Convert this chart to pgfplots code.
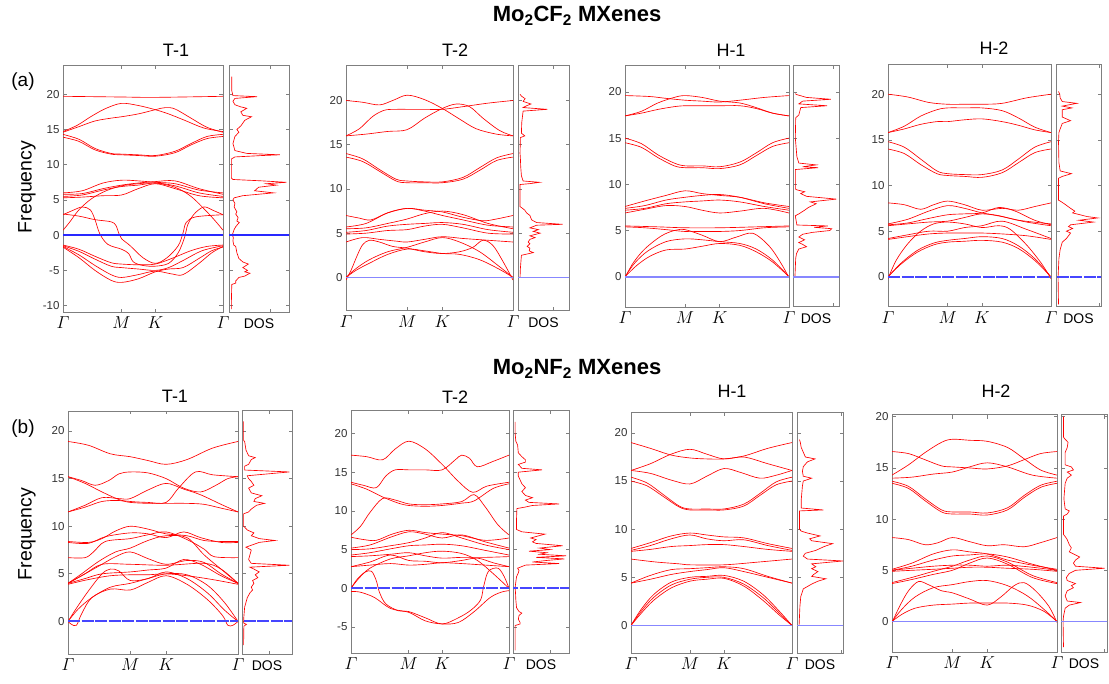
\documentclass[border=0pt]{standalone}
\usepackage{pgfplots}
\pgfplotsset{compat=1.18}
\usepackage{fontspec}
\setmainfont{Liberation Sans}
\definecolor{axg}{HTML}{7F7F7F}
\definecolor{lbl}{HTML}{333333}
\definecolor{zdark}{RGB}{40,40,255}
\definecolor{zlight}{RGB}{135,135,255}
\definecolor{zmid}{RGB}{70,70,255}
\newcommand{\G}{\mathnormal{\Gamma}}
\pgfplotsset{
 base/.style={scale only axis, anchor=north west,
   axis line style={draw=axg, line width=1pt},
   every tick/.style={draw=axg, line width=0.7pt}, major tick length=3.5pt,
   tick align=inside,
   tick label style={font=\fontsize{11.5}{12}\selectfont, color=lbl},
   /pgf/number format/assume math mode=true, clip=true},
 band/.style={base, xmin=0, xmax=1, xtick={0,0.366,0.577,1},
   xticklabels={$\G$,$M$,$K$,$\G$},
   xticklabel style={font=\fontsize{17.5}{17.5}\selectfont, color=black, yshift=-1pt}},
 dos/.style={base, xmin=-0.05, xtick={1}, xticklabels={}, yticklabels={},
   xlabel={DOS}, xlabel style={at={(axis description cs:0.5,0)}, anchor=north, yshift=-3pt, font=\fontsize{14}{14}\selectfont}},
 bd/.style={draw=red, line width=0.65pt, smooth, tension=0.55, no marks},
 ds/.style={draw=red, line width=0.65pt, no marks},
 zd/.style={draw=zdark, line width=1.6pt, no marks},
 zl/.style={draw=zlight, line width=1.6pt, no marks},
 zm/.style={draw=zmid, line width=1.8pt, no marks, dash pattern=on 12pt off 1.5pt},
}
\begin{document}
\begin{tikzpicture}
\path[use as bounding box] (0,0) rectangle (1109pt,-684pt);
% ---------- titles ----------
\node[anchor=base, font=\fontsize{22}{22}\selectfont\bfseries] at (577pt,-22pt) {Mo\textsubscript{2}CF\textsubscript{2} MXenes};
\node[anchor=base, font=\fontsize{22}{22}\selectfont\bfseries] at (577pt,-375pt) {Mo\textsubscript{2}NF\textsubscript{2} MXenes};
\node[anchor=base, font=\fontsize{19}{19}\selectfont] at (23pt,-87pt) {(a)};
\node[anchor=base, font=\fontsize{19}{19}\selectfont] at (23pt,-434pt) {(b)};
\node[rotate=90, font=\fontsize{19.5}{19.5}\selectfont] at (27pt,-187pt) {Frequency};
\node[rotate=90, font=\fontsize{19.5}{19.5}\selectfont] at (27pt,-534pt) {Frequency};
\foreach \x/\y/\t in {176/57/T-1, 455/57/T-2, 731/57/H-1, 994/55/H-2, 175/403/T-1, 455/404/T-2, 732/398/H-1, 996/398/H-2}
  \node[anchor=base, font=\fontsize{18}{18}\selectfont] at (\x pt,-\y pt) {\t};

% ================= (a) T-1 =================
\begin{axis}[band, at={(63pt,-66pt)}, width=160pt, height=246pt, ymin=-10.9, ymax=24, ytick={-10,-5,...,20}]
\addplot[bd] coordinates {(0,19.7)(0.366,19.6)(0.577,19.55)(1,19.7)};
\addplot[bd] coordinates {(0,14.7)(0.09,15.6)(0.18,16.9)(0.27,18.0)(0.366,18.7)(0.47,18.4)(0.577,17.8)(0.66,17.2)(0.76,16.3)(0.88,15.2)(1,14.7)};
\addplot[bd] coordinates {(0,14.6)(0.1,15.4)(0.2,16.2)(0.3,16.6)(0.366,16.8)(0.47,17.2)(0.577,17.8)(0.64,18.1)(0.7,17.9)(0.8,16.6)(0.9,15.3)(1,14.6)};
\addplot[bd] coordinates {(0,14.3)(0.1,13.6)(0.2,12.3)(0.3,11.6)(0.366,11.5)(0.47,11.4)(0.577,11.3)(0.7,11.9)(0.8,13.0)(0.9,14.0)(1,14.3)};
\addplot[bd] coordinates {(0,13.9)(0.1,13.3)(0.2,12.1)(0.3,11.5)(0.366,11.4)(0.47,11.3)(0.577,11.2)(0.7,11.7)(0.8,12.8)(0.9,13.7)(1,14.0)};
\addplot[bd] coordinates {(0,6.0)(0.12,6.3)(0.25,7.4)(0.366,7.8)(0.47,7.7)(0.577,7.5)(0.7,7.3)(0.85,6.4)(1,6.0)};
\addplot[bd] coordinates {(0,5.8)(0.12,5.9)(0.25,6.6)(0.366,7.1)(0.47,7.4)(0.577,7.6)(0.7,7.7)(0.85,6.6)(1,5.8)};
\addplot[bd] coordinates {(0,5.5)(0.12,5.7)(0.25,6.4)(0.366,6.9)(0.47,7.1)(0.577,7.4)(0.7,7.0)(0.85,6.0)(1,5.5)};
\addplot[bd] coordinates {(0,5.3)(0.12,5.4)(0.25,5.6)(0.366,5.7)(0.47,6.6)(0.577,7.3)(0.7,6.6)(0.85,5.6)(1,5.3)};
\addplot[bd] coordinates {(0,0.7)(0.04,1.8)(0.1,3.6)(0.18,5.2)(0.27,6.3)(0.366,7.0)(0.47,7.3)(0.577,7.4)(0.7,6.8)(0.8,5.5)(0.9,3.3)(0.96,1.8)(1,0.7)};
\addplot[bd] coordinates {(0,3.0)(0.1,2.7)(0.2,2.2)(0.3,1.9)(0.33,1.4)(0.35,0.2)(0.366,-0.5)(0.42,-1.5)(0.5,-3.2)(0.577,-4.0)(0.65,-3.2)(0.72,-1.5)(0.75,0.3)(0.77,1.8)(0.83,2.6)(1,2.9)};
\addplot[bd] coordinates {(0,2.9)(0.06,3.5)(0.12,4.0)(0.17,3.6)(0.2,2.2)(0.23,0.2)(0.28,-1.3)(0.366,-2.0)(0.41,-2.6)(0.44,-3.8)(0.5,-4.3)(0.577,-4.4)(0.66,-4.0)(0.72,-2.5)(0.76,-0.3)(0.78,1.5)(0.82,3.0)(0.88,4.0)(0.94,3.5)(1,2.9)};
\addplot[bd] coordinates {(0,-1.4)(0.1,-2.0)(0.2,-3.0)(0.3,-3.9)(0.366,-4.1)(0.47,-4.2)(0.577,-4.1)(0.68,-3.3)(0.8,-2.2)(0.9,-1.6)(1,-1.4)};
\addplot[bd] coordinates {(0,-1.5)(0.1,-2.3)(0.2,-3.4)(0.3,-4.4)(0.366,-4.6)(0.47,-4.8)(0.577,-5.0)(0.66,-4.6)(0.75,-3.6)(0.87,-2.2)(1,-1.5)};
\addplot[bd] coordinates {(0,-1.6)(0.1,-2.8)(0.2,-4.3)(0.3,-5.6)(0.366,-6.0)(0.47,-5.6)(0.577,-5.1)(0.68,-5.5)(0.75,-5.6)(0.85,-4.0)(0.93,-2.5)(1,-1.6)};
\addplot[bd] coordinates {(0,-1.7)(0.1,-3.2)(0.2,-5.0)(0.3,-6.4)(0.366,-6.7)(0.47,-6.2)(0.577,-5.2)(0.66,-4.8)(0.75,-4.6)(0.85,-3.3)(0.93,-2.2)(1,-1.7)};
\addplot[zd] coordinates {(0,0)(1,0)};
\end{axis}
\begin{axis}[dos, at={(229pt,-66pt)}, width=60pt, height=246pt, xmax=1.47, ymin=-10.9, ymax=24, ytick={-10,-5,...,20}]
\addplot[ds] coordinates {(0.01,-10.5)(0.01,-9.5)(0.02,-7)(0.12,-6.8)(0.12,-6.5)(0.2,-6.0)(0.35,-5.8)(0.48,-5.4)(0.35,-5.2)(0.42,-5.0)(0.3,-4.6)(0.44,-4.1)(0.3,-3.8)(0.2,-3.3)(0.15,-2.5)(0.12,-1.6)(0.07,-1.4)(0.05,-0.8)(0.06,-0.3)(0.03,0)(0.05,0.3)(0.08,0.8)(0.12,1.2)(0.21,1.8)(0.15,2.0)(0.18,2.5)(0.12,3.0)(0.15,3.3)(0.08,4.0)(0.1,4.5)(0.05,5.0)(0.08,5.3)(0.3,5.6)(1.08,6.0)(0.6,6.3)(0.7,6.8)(1.15,7.1)(0.9,7.3)(1.4,7.5)(0.8,7.7)(0.05,7.9)(0.01,8.1)(0.01,10.8)(0.1,11.1)(0.8,11.3)(1.24,11.4)(0.4,11.6)(0.1,12.0)(0.05,13.0)(0.1,14.0)(0.2,14.6)(0.15,15.0)(0.25,15.5)(0.35,16.3)(0.52,16.8)(0.3,17.0)(0.25,17.5)(0.4,18.0)(0.25,18.2)(0.1,18.5)(0.05,19.0)(0.1,19.4)(0.66,19.65)(0.05,19.8)(0.02,20.5)(0.02,22.5)};
\addplot[zd] coordinates {(-1,0)(3,0)};
\end{axis}

% ================= (a) T-2 =================
\begin{axis}[band, at={(346pt,-66pt)}, width=167pt, height=245pt, ymin=-3.8, ymax=23.9, ytick={0,5,...,20}]
\addplot[bd] coordinates {(0,20.0)(0.1,19.8)(0.2,19.5)(0.28,20.0)(0.366,20.6)(0.47,20.1)(0.577,19.1)(0.68,17.9)(0.78,16.8)(0.9,16.2)(1,16.0)};
\addplot[bd] coordinates {(0,16.0)(0.08,16.8)(0.16,18.2)(0.23,18.9)(0.3,19.0)(0.366,19.0)(0.47,19.0)(0.577,19.0)(0.7,19.3)(0.85,19.7)(1,20.0)};
\addplot[bd] coordinates {(0,16.0)(0.12,16.2)(0.25,16.5)(0.366,16.7)(0.47,18.0)(0.577,19.1)(0.66,19.6)(0.74,19.3)(0.82,18.0)(0.92,16.6)(1,16.0)};
\addplot[bd] coordinates {(0,14.0)(0.1,13.4)(0.2,12.2)(0.3,11.1)(0.366,10.9)(0.47,10.8)(0.577,10.8)(0.7,11.3)(0.8,12.4)(0.9,13.5)(1,14.0)};
\addplot[bd] coordinates {(0,13.6)(0.1,13.1)(0.2,12.0)(0.3,10.9)(0.366,10.7)(0.47,10.7)(0.577,10.7)(0.7,11.1)(0.8,12.1)(0.9,13.2)(1,13.6)};
\addplot[bd] coordinates {(0,7.0)(0.08,6.7)(0.15,6.5)(0.25,7.3)(0.366,7.8)(0.47,7.6)(0.577,7.4)(0.7,6.8)(0.82,6.4)(0.9,6.6)(1,7.0)};
\addplot[bd] coordinates {(0,5.7)(0.12,6.1)(0.25,7.3)(0.366,7.8)(0.47,7.5)(0.577,7.0)(0.7,6.5)(0.85,5.9)(1,5.7)};
\addplot[bd] coordinates {(0,5.5)(0.12,5.6)(0.25,6.1)(0.366,6.6)(0.47,7.2)(0.577,7.5)(0.7,7.1)(0.85,6.1)(1,5.5)};
\addplot[bd] coordinates {(0,5.1)(0.12,5.3)(0.25,5.8)(0.366,6.0)(0.47,6.1)(0.577,6.2)(0.7,6.0)(0.85,5.4)(1,5.1)};
\addplot[bd] coordinates {(0,4.9)(0.12,5.0)(0.25,5.3)(0.366,5.4)(0.47,5.8)(0.577,6.0)(0.7,5.6)(0.85,5.0)(1,4.9)};
\addplot[bd] coordinates {(0,4.0)(0.1,4.5)(0.2,4.3)(0.3,4.1)(0.366,4.0)(0.47,4.3)(0.577,4.6)(0.7,4.4)(0.85,4.2)(1,4.0)};
\addplot[bd] coordinates {(0,-0.3)(0.03,0.8)(0.07,2.6)(0.1,3.7)(0.14,4.2)(0.2,4.0)(0.28,3.5)(0.366,3.3)(0.47,2.9)(0.577,2.7)(0.68,2.9)(0.76,3.4)(0.82,4.2)(0.88,3.6)(0.94,1.8)(1,-0.3)};
\addplot[bd] coordinates {(0,0)(0.06,1.0)(0.14,2.0)(0.25,2.9)(0.366,3.4)(0.47,4.0)(0.577,4.5)(0.68,4.0)(0.8,2.9)(0.92,1.2)(1,0)};
\addplot[bd] coordinates {(0,0)(0.06,0.8)(0.14,1.6)(0.25,2.6)(0.366,3.2)(0.47,3.0)(0.577,2.7)(0.68,2.6)(0.8,2.0)(0.92,0.9)(1,0)};
\addplot[zl] coordinates {(0,0)(1,0)};
\end{axis}
\begin{axis}[dos, at={(518pt,-66pt)}, width=51pt, height=245pt, xmax=1.45, ymin=-3.8, ymax=23.9, ytick={0,5,...,20}]
\addplot[ds] coordinates {(0.01,0)(0.02,1.0)(0.05,2.5)(0.4,2.8)(0.28,3.0)(0.3,3.3)(0.22,3.5)(0.3,3.8)(0.25,4.0)(0.3,4.3)(0.45,4.5)(0.3,4.7)(0.6,5.0)(0.4,5.2)(0.55,5.4)(0.3,5.6)(0.5,5.9)(1.26,6.0)(0.5,6.2)(0.35,6.5)(0.3,7.0)(0.2,7.3)(0.15,7.6)(0.05,7.9)(0.01,8.0)(0.01,10.5)(0.3,10.6)(0.58,10.75)(0.1,10.9)(0.05,11.5)(0.03,12.5)(0.02,13.5)(0.01,14.0)(0.02,15.8)(0.15,16.0)(0.05,16.3)(0.06,17.5)(0.1,18.8)(0.81,19.0)(0.1,19.2)(0.2,19.4)(0.33,19.6)(0.1,19.9)(0.16,20.2)(0.05,20.5)(0.01,20.7)};
\addplot[zl] coordinates {(-1,0)(3,0)};
\end{axis}

% ================= (a) H-1 =================
\begin{axis}[band, at={(625pt,-66pt)}, width=164pt, height=241pt, ymin=-3.27, ymax=22.8, ytick={0,5,...,20}]
\addplot[bd] coordinates {(0,19.6)(0.15,19.5)(0.25,19.3)(0.366,19.1)(0.47,19.0)(0.577,18.9)(0.7,19.1)(0.85,19.4)(1,19.6)};
\addplot[bd] coordinates {(0,17.4)(0.1,17.9)(0.2,18.8)(0.3,19.4)(0.366,19.6)(0.47,19.4)(0.577,19.0)(0.7,18.8)(0.8,18.3)(0.9,17.7)(1,17.4)};
\addplot[bd] coordinates {(0,17.4)(0.1,17.7)(0.2,18.1)(0.3,18.4)(0.366,18.5)(0.47,18.5)(0.577,18.5)(0.7,18.5)(0.8,18.2)(0.9,17.7)(1,17.4)};
\addplot[bd] coordinates {(0,15.0)(0.1,14.4)(0.2,13.2)(0.3,12.3)(0.366,12.0)(0.47,12.0)(0.577,11.9)(0.7,12.4)(0.8,13.4)(0.9,14.5)(1,15.0)};
\addplot[bd] coordinates {(0,14.5)(0.1,14.0)(0.2,12.9)(0.3,12.0)(0.366,11.8)(0.47,11.8)(0.577,11.7)(0.7,12.1)(0.8,13.1)(0.9,14.1)(1,14.5)};
\addplot[bd] coordinates {(0,7.6)(0.12,8.2)(0.25,8.8)(0.366,9.3)(0.47,9.0)(0.577,8.8)(0.7,8.6)(0.85,8.0)(1,7.6)};
\addplot[bd] coordinates {(0,7.4)(0.12,7.7)(0.25,8.3)(0.366,8.6)(0.47,8.8)(0.577,8.9)(0.7,8.6)(0.85,7.9)(1,7.4)};
\addplot[bd] coordinates {(0,7.2)(0.12,7.4)(0.25,7.9)(0.366,8.1)(0.47,8.2)(0.577,8.3)(0.7,8.1)(0.85,7.6)(1,7.2)};
\addplot[bd] coordinates {(0,6.9)(0.12,7.3)(0.25,7.7)(0.366,7.6)(0.47,7.2)(0.577,6.9)(0.7,7.1)(0.85,7.4)(1,6.9)};
\addplot[bd] coordinates {(0,5.5)(0.2,5.4)(0.366,5.3)(0.577,5.3)(0.8,5.4)(1,5.5)};
\addplot[bd] coordinates {(0,5.4)(0.12,5.3)(0.25,5.1)(0.366,4.9)(0.47,4.9)(0.577,4.9)(0.7,5.0)(0.85,5.3)(1,5.4)};
\addplot[bd] coordinates {(0,-0.1)(0.05,1.5)(0.12,3.0)(0.22,4.4)(0.3,5.0)(0.366,5.1)(0.47,4.5)(0.577,3.8)(0.68,4.3)(0.78,4.7)(0.88,3.3)(0.95,1.5)(1,-0.1)};
\addplot[bd] coordinates {(0,0)(0.06,1.5)(0.14,2.8)(0.25,3.8)(0.366,4.1)(0.47,4.0)(0.577,3.8)(0.7,3.6)(0.8,3.0)(0.9,1.8)(1,0)};
\addplot[bd] coordinates {(0,0)(0.07,1.2)(0.15,2.2)(0.25,2.9)(0.366,3.0)(0.47,3.3)(0.577,3.6)(0.7,3.4)(0.8,2.7)(0.9,1.6)(1,0)};
\addplot[zl] coordinates {(0,0)(1,0)};
\end{axis}
\begin{axis}[dos, at={(793pt,-66pt)}, width=46pt, height=241pt, xmax=1.14, ymin=-3.27, ymax=22.8, ytick={0,5,...,20}]
\addplot[ds] coordinates {(0,0)(0.01,1)(0.02,2)(0.04,2.5)(0.1,3.0)(0.3,3.25)(0.2,3.5)(0.1,3.7)(0.25,4.0)(0.1,4.3)(0.2,4.6)(0.45,4.8)(0.9,5.0)(0.95,5.2)(0.5,5.35)(0.85,5.5)(0.05,5.6)(0.01,6.6)(0.1,6.8)(0.25,7.2)(0.35,7.5)(0.55,7.9)(0.4,8.1)(1.07,8.4)(0.3,8.7)(0.15,9.0)(0.25,9.2)(0.05,9.4)(0.01,9.5)(0.01,11.6)(0.6,11.8)(0.2,11.9)(0.55,12.1)(0.1,12.3)(0.05,13)(0.02,14.5)(0.01,15.0)(0.02,17.2)(0.1,17.5)(0.15,18.3)(0.83,18.5)(0.1,18.7)(0.2,19.0)(0.93,19.2)(0.3,19.4)(0.05,19.7)(0.01,19.8)};
\addplot[zl] coordinates {(-1,0)(3,0)};
\end{axis}

% ================= (a) H-2 =================
\begin{axis}[band, at={(888pt,-65pt)}, width=163pt, height=242pt, ymin=-3.3, ymax=23.2, ytick={0,5,...,20}]
\addplot[bd] coordinates {(0,20.0)(0.12,19.7)(0.25,19.1)(0.366,18.9)(0.47,18.9)(0.577,18.9)(0.7,19.0)(0.85,19.6)(1,20.0)};
\addplot[bd] coordinates {(0,15.8)(0.1,16.5)(0.2,17.6)(0.3,18.3)(0.366,18.5)(0.47,18.5)(0.577,18.5)(0.7,18.2)(0.8,17.4)(0.9,16.4)(1,15.8)};
\addplot[bd] coordinates {(0,15.8)(0.1,16.2)(0.2,16.7)(0.3,17.0)(0.366,17.0)(0.47,17.2)(0.577,17.3)(0.7,17.0)(0.8,16.6)(0.9,16.1)(1,15.8)};
\addplot[bd] coordinates {(0,14.8)(0.1,14.2)(0.2,12.9)(0.3,11.6)(0.366,11.3)(0.47,11.2)(0.577,11.2)(0.7,11.7)(0.8,12.9)(0.9,14.2)(1,14.8)};
\addplot[bd] coordinates {(0,14.0)(0.1,13.5)(0.2,12.3)(0.3,11.3)(0.366,11.1)(0.47,11.0)(0.577,10.9)(0.7,11.4)(0.8,12.5)(0.9,13.6)(1,14.0)};
\addplot[bd] coordinates {(0,8.1)(0.1,7.9)(0.2,7.4)(0.28,7.9)(0.366,8.3)(0.47,7.9)(0.577,7.3)(0.7,7.5)(0.8,7.3)(0.9,7.7)(1,8.1)};
\addplot[bd] coordinates {(0,5.8)(0.12,6.3)(0.25,7.2)(0.366,7.8)(0.47,7.5)(0.577,7.0)(0.68,6.7)(0.8,6.2)(1,5.8)};
\addplot[bd] coordinates {(0,5.7)(0.12,5.9)(0.25,6.4)(0.366,6.8)(0.47,6.9)(0.577,7.0)(0.68,7.6)(0.78,7.2)(0.9,6.2)(1,5.7)};
\addplot[bd] coordinates {(0,5.6)(0.12,5.8)(0.25,6.0)(0.366,6.1)(0.47,6.5)(0.577,6.9)(0.7,6.6)(0.85,6.0)(1,5.6)};
\addplot[bd] coordinates {(0,4.2)(0.12,4.6)(0.25,5.0)(0.366,5.0)(0.47,5.4)(0.577,5.6)(0.7,6.1)(0.85,5.2)(1,4.2)};
\addplot[bd] coordinates {(0,4.1)(0.12,4.4)(0.25,4.7)(0.366,4.8)(0.47,4.8)(0.577,4.8)(0.7,4.7)(0.85,4.5)(1,4.1)};
\addplot[bd] coordinates {(0,-0.2)(0.05,1.8)(0.12,3.6)(0.2,5.0)(0.28,5.8)(0.366,6.0)(0.47,5.8)(0.577,5.4)(0.68,5.6)(0.75,5.2)(0.85,3.5)(0.94,1.5)(1,-0.2)};
\addplot[bd] coordinates {(0,0)(0.08,1.5)(0.18,2.9)(0.28,3.7)(0.366,4.0)(0.47,4.2)(0.577,4.4)(0.7,4.2)(0.8,3.4)(0.9,2.0)(1,0)};
\addplot[bd] coordinates {(0,0)(0.08,1.4)(0.18,2.7)(0.28,3.5)(0.366,3.8)(0.47,3.9)(0.577,4.0)(0.7,3.8)(0.8,3.1)(0.9,1.8)(1,0)};
\addplot[zm] coordinates {(0,0)(1,0)};
\end{axis}
\begin{axis}[dos, at={(1056pt,-65pt)}, width=45pt, height=242pt, xmax=1.03, ymin=-3.3, ymax=23.2, ytick={0,5,...,20}]
\addplot[ds] coordinates {(0.01,-3)(0,0)(0.01,1)(0.02,2)(0.05,3)(0.1,3.8)(0.2,4.2)(0.25,4.5)(0.3,4.8)(0.2,5.0)(0.35,5.3)(0.25,5.5)(0.3,5.7)(0.85,6.0)(0.5,6.2)(0.95,6.45)(0.7,6.6)(0.35,7.0)(0.4,7.2)(0.3,7.5)(0.15,8.0)(0.05,8.3)(0.01,8.4)(0.01,10.8)(0.1,11.0)(0.32,11.3)(0.05,11.6)(0.02,12.5)(0.01,14.8)(0.02,15.8)(0.05,16.2)(0.1,16.8)(0.3,17.1)(0.1,17.5)(0.1,18.3)(0.33,18.5)(0.1,18.7)(0.45,19.0)(0.1,19.2)(0.05,19.6)(0.04,20.0)(0.01,20.3)};
\addplot[zm] coordinates {(-1,0)(3,0)};
\end{axis}

% ================= (b) T-1 =================
\begin{axis}[band, at={(68pt,-411pt)}, width=170pt, height=243pt, ymin=-3.42, ymax=22.1, ytick={0,5,...,20}]
\addplot[bd] coordinates {(0,18.9)(0.12,18.5)(0.25,17.6)(0.366,17.3)(0.47,16.9)(0.577,16.5)(0.7,17.0)(0.85,18.2)(1,18.9)};
\addplot[bd] coordinates {(0,15.2)(0.08,14.8)(0.16,14.3)(0.24,14.8)(0.3,15.5)(0.366,15.7)(0.47,15.6)(0.577,15.0)(0.68,14.0)(0.78,13.6)(0.87,14.3)(0.94,15.0)(1,15.2)};
\addplot[bd] coordinates {(0,15.2)(0.1,14.5)(0.2,13.6)(0.3,12.8)(0.366,12.6)(0.47,12.5)(0.577,12.5)(0.65,14.0)(0.75,15.7)(0.85,15.4)(1,15.2)};
\addplot[bd] coordinates {(0,11.5)(0.1,12.2)(0.2,13.0)(0.3,12.9)(0.366,12.9)(0.47,13.8)(0.577,14.5)(0.68,13.9)(0.78,13.3)(0.9,12.3)(1,11.5)};
\addplot[bd] coordinates {(0,11.5)(0.1,12.0)(0.2,12.6)(0.3,12.7)(0.366,12.5)(0.47,12.4)(0.577,12.4)(0.7,12.4)(0.8,12.3)(0.9,11.9)(1,11.5)};
\addplot[bd] coordinates {(0,8.4)(0.12,8.3)(0.2,8.7)(0.28,9.5)(0.366,10.0)(0.47,9.7)(0.577,9.2)(0.7,9.0)(0.8,8.5)(0.9,8.4)(1,8.4)};
\addplot[bd] coordinates {(0,8.3)(0.12,8.2)(0.22,8.9)(0.366,9.3)(0.47,9.2)(0.577,8.8)(0.68,9.4)(0.78,8.8)(0.9,8.3)(1,8.3)};
\addplot[bd] coordinates {(0,6.7)(0.1,6.7)(0.15,7.3)(0.22,8.4)(0.366,8.7)(0.47,9.1)(0.577,9.4)(0.7,8.6)(0.8,7.6)(0.86,6.8)(1,6.7)};
\addplot[bd] coordinates {(0,4.0)(0.08,5.0)(0.18,6.3)(0.28,7.3)(0.366,7.7)(0.47,8.5)(0.577,9.0)(0.7,8.8)(0.8,7.0)(0.9,5.5)(1,4.0)};
\addplot[bd] coordinates {(0,4.0)(0.08,4.8)(0.18,5.8)(0.28,6.8)(0.366,7.3)(0.47,6.6)(0.577,6.0)(0.7,6.4)(0.8,6.2)(0.9,5.0)(1,4.0)};
\addplot[bd] coordinates {(0,4.0)(0.1,5.0)(0.2,6.0)(0.366,6.0)(0.577,5.9)(0.8,6.1)(0.9,5.5)(1,4.0)};
\addplot[bd] coordinates {(0,4.0)(0.1,4.5)(0.2,5.0)(0.366,5.2)(0.47,5.4)(0.577,5.6)(0.68,6.5)(0.78,6.0)(0.9,4.8)(1,4.0)};
\addplot[bd] coordinates {(0,3.9)(0.12,4.4)(0.25,4.8)(0.366,4.9)(0.47,4.9)(0.577,5.0)(0.7,4.8)(0.85,4.4)(1,3.9)};
\addplot[bd] coordinates {(0,0)(0.02,-0.3)(0.05,-0.4)(0.08,0.8)(0.14,2.5)(0.25,3.4)(0.366,3.3)(0.47,4.1)(0.577,4.8)(0.7,3.9)(0.82,2.3)(0.91,0.6)(0.94,-0.4)(0.97,-0.4)(1,0)};
\addplot[bd] coordinates {(0,0)(0.05,1.4)(0.12,3.2)(0.2,5.0)(0.25,5.5)(0.3,5.3)(0.366,4.3)(0.47,4.5)(0.577,5.2)(0.7,4.5)(0.82,3.0)(0.92,1.2)(1,0)};
\addplot[bd] coordinates {(0,0)(0.06,1.3)(0.14,2.5)(0.25,3.6)(0.366,4.0)(0.47,4.5)(0.577,5.0)(0.7,4.9)(0.82,3.8)(0.92,2.0)(1,0)};
\addplot[zm, line width=2pt] coordinates {(0,0)(1,0)};
\end{axis}
\begin{axis}[dos, at={(242pt,-411pt)}, width=50pt, height=243pt, xmax=1.84, ymin=-3.42, ymax=22.1, ytick={0,5,...,20}]
\addplot[ds] coordinates {(0.01,-2.5)(0.02,-0.5)(0.12,-0.3)(0.02,-0.2)(0.01,0)(0.02,0.5)(0.05,1.5)(0.15,2.5)(0.25,3.0)(0.35,3.3)(0.3,3.6)(0.4,4.0)(0.35,4.3)(0.55,4.6)(0.45,4.9)(0.6,5.2)(0.4,5.5)(0.25,5.7)(1.74,5.9)(0.3,6.1)(0.2,6.5)(0.25,7.0)(0.3,7.5)(0.1,7.8)(0.3,8.0)(0.6,8.3)(1.2,8.5)(0.6,8.7)(0.3,9.0)(0.4,9.3)(0.15,9.6)(0.05,9.9)(0.01,10.0)(0.01,11.3)(0.2,11.5)(0.3,11.8)(0.5,12.2)(0.8,12.4)(0.4,12.6)(0.45,12.9)(0.7,13.2)(0.3,13.5)(0.2,14.0)(0.4,14.3)(0.3,14.7)(0.2,15.0)(0.15,15.3)(1.74,15.7)(0.05,15.9)(0.05,16.3)(0.2,16.5)(0.3,17.0)(0.45,17.2)(0.2,17.4)(0.1,18.0)(0.05,18.9)(0.01,19.0)(0.01,21)};
\addplot[zm, line width=2pt] coordinates {(-1,0)(3,0)};
\end{axis}

% ================= (b) T-2 =================
\begin{axis}[band, at={(351pt,-411pt)}, width=158pt, height=242pt, ymin=-8.35, ymax=22.9, ytick={-5,0,...,20}]
\addplot[bd] coordinates {(0,17.2)(0.1,17.0)(0.2,16.6)(0.28,18.0)(0.366,19.0)(0.47,18.0)(0.577,16.0)(0.68,13.8)(0.77,12.4)(0.86,13.2)(1,13.7)};
\addplot[bd] coordinates {(0,13.7)(0.08,13.3)(0.16,13.0)(0.22,14.5)(0.28,15.3)(0.366,15.3)(0.47,15.3)(0.577,15.3)(0.66,16.6)(0.7,17.2)(0.75,16.8)(0.8,15.7)(0.9,16.4)(1,17.2)};
\addplot[bd] coordinates {(0,13.5)(0.1,12.8)(0.2,11.8)(0.3,11.0)(0.366,10.7)(0.47,10.6)(0.577,10.7)(0.7,11.0)(0.78,11.3)(0.9,12.9)(1,13.5)};
\addplot[bd] coordinates {(0,6.9)(0.06,8.0)(0.12,9.8)(0.2,11.6)(0.28,11.4)(0.366,10.9)(0.47,10.8)(0.577,10.9)(0.7,11.2)(0.78,12.1)(0.85,10.5)(0.93,8.2)(1,6.9)};
\addplot[bd] coordinates {(0,6.6)(0.08,6.3)(0.16,6.2)(0.26,7.0)(0.366,7.5)(0.47,7.2)(0.577,7.0)(0.7,6.8)(0.85,6.2)(1,6.5)};
\addplot[bd] coordinates {(0,5.2)(0.12,5.6)(0.25,6.6)(0.366,7.3)(0.47,7.0)(0.577,6.5)(0.7,6.9)(0.85,6.0)(1,5.2)};
\addplot[bd] coordinates {(0,5.0)(0.12,5.1)(0.25,5.5)(0.366,5.9)(0.47,6.5)(0.577,7.2)(0.7,6.5)(0.85,5.6)(1,5.0)};
\addplot[bd] coordinates {(0,4.3)(0.12,4.6)(0.25,5.1)(0.366,5.5)(0.47,5.6)(0.577,5.7)(0.7,5.5)(0.85,4.9)(1,4.3)};
\addplot[bd] coordinates {(0,4.1)(0.12,4.2)(0.25,4.4)(0.366,4.6)(0.47,4.2)(0.577,3.9)(0.7,4.0)(0.85,4.0)(1,4.1)};
\addplot[bd] coordinates {(0,2.8)(0.12,3.4)(0.25,4.3)(0.366,3.6)(0.47,3.5)(0.577,3.3)(0.7,3.6)(0.8,3.9)(0.9,3.3)(1,2.8)};
\addplot[bd] coordinates {(0,2.8)(0.12,3.0)(0.25,3.2)(0.366,3.0)(0.47,3.1)(0.577,3.3)(0.7,3.2)(0.85,3.0)(1,2.8)};
\addplot[bd] coordinates {(0,0)(0.05,1.3)(0.12,2.6)(0.25,3.8)(0.366,4.2)(0.47,4.6)(0.577,4.8)(0.7,4.5)(0.8,3.6)(0.9,1.9)(1,0)};
\addplot[bd] coordinates {(0,0)(0.04,1.2)(0.09,2.1)(0.13,2.2)(0.16,1.0)(0.18,-0.5)(0.22,-2.0)(0.3,-2.9)(0.366,-3.0)(0.47,-3.8)(0.577,-4.6)(0.68,-3.8)(0.76,-2.8)(0.82,-1.5)(0.84,0.3)(0.87,2.2)(0.93,2.6)(0.97,1.5)(1,0)};
\addplot[bd] coordinates {(0,-0.4)(0.06,-0.5)(0.15,-1.2)(0.25,-2.6)(0.366,-3.1)(0.47,-4.2)(0.577,-4.6)(0.68,-4.4)(0.78,-3.0)(0.88,-1.2)(0.95,-0.5)(1,-0.3)};
\addplot[zm, line width=2pt] coordinates {(0,0)(1,0)};
\end{axis}
\begin{axis}[dos, at={(513pt,-411pt)}, width=56pt, height=242pt, xmax=1.53, ymin=-8.35, ymax=22.9, ytick={-5,0,...,20}]
\addplot[ds] coordinates {(0.01,-8)(0.01,-4.8)(0.15,-4.6)(0.15,-4.4)(0.1,-4.0)(0.12,-3.5)(0.2,-3.2)(0.12,-3.0)(0.05,-2.5)(0.03,-1.5)(0.02,-0.5)(0.01,0)(0.02,0.5)(0.05,1.5)(0.1,2.0)(0.12,2.3)(0.08,2.6)(0.3,3.0)(1.25,3.2)(0.5,3.4)(0.9,3.6)(1.4,3.8)(0.6,4.0)(1.45,4.2)(0.7,4.4)(0.9,4.6)(0.4,4.8)(1.0,5.0)(0.7,5.2)(1.35,5.5)(0.6,5.8)(0.5,6.0)(0.6,6.3)(0.45,6.5)(0.85,7.0)(0.2,7.3)(0.05,7.6)(0.05,9)(0.06,10.3)(0.3,10.5)(0.5,10.7)(1.25,10.9)(0.4,11.1)(0.3,11.4)(0.5,11.7)(0.3,12.0)(0.2,12.5)(0.3,13.0)(0.2,13.5)(0.15,14.0)(0.1,14.5)(0.1,15.0)(0.77,15.3)(0.2,15.5)(0.1,16.0)(0.3,16.3)(0.3,16.6)(0.2,17.0)(0.1,17.5)(0.08,18.5)(0.03,19.0)(0.01,20.0)(0.01,21.5)};
\addplot[zm, line width=2pt] coordinates {(-1,0)(3,0)};
\end{axis}

% ================= (b) H-1 =================
\begin{axis}[band, at={(631pt,-413pt)}, width=161pt, height=240pt, ymin=-2.86, ymax=22.07, ytick={0,5,...,20}]
\addplot[bd] coordinates {(0,19.0)(0.12,18.4)(0.25,17.7)(0.366,17.4)(0.47,17.3)(0.577,17.3)(0.7,17.6)(0.85,18.4)(1,19.0)};
\addplot[bd] coordinates {(0,16.1)(0.12,16.8)(0.25,17.8)(0.366,18.3)(0.47,17.8)(0.577,17.3)(0.7,17.5)(0.85,16.8)(1,16.1)};
\addplot[bd] coordinates {(0,16.1)(0.12,15.8)(0.25,15.1)(0.366,14.7)(0.47,15.5)(0.577,16.3)(0.68,15.9)(0.8,15.3)(0.9,15.6)(1,16.1)};
\addplot[bd] coordinates {(0,15.4)(0.1,14.8)(0.2,13.6)(0.3,12.4)(0.366,12.1)(0.47,12.1)(0.577,12.1)(0.7,12.6)(0.8,13.7)(0.9,14.9)(1,15.4)};
\addplot[bd] coordinates {(0,15.0)(0.1,14.5)(0.2,13.4)(0.3,12.3)(0.366,12.0)(0.47,12.0)(0.577,12.0)(0.7,12.4)(0.8,13.5)(0.9,14.6)(1,15.0)};
\addplot[bd] coordinates {(0,8.0)(0.12,8.6)(0.25,9.3)(0.366,9.6)(0.47,9.4)(0.577,9.2)(0.7,9.1)(0.85,8.5)(1,8.0)};
\addplot[bd] coordinates {(0,7.8)(0.12,8.3)(0.25,9.0)(0.366,9.4)(0.47,9.0)(0.577,8.8)(0.7,8.9)(0.85,8.3)(1,7.8)};
\addplot[bd] coordinates {(0,7.7)(0.12,7.9)(0.25,8.2)(0.366,8.3)(0.47,8.4)(0.577,8.4)(0.7,8.2)(0.85,7.9)(1,7.7)};
\addplot[bd] coordinates {(0,6.9)(0.15,6.6)(0.3,6.4)(0.366,6.3)(0.577,6.3)(0.8,6.6)(1,6.9)};
\addplot[bd] coordinates {(0,4.4)(0.12,5.2)(0.25,5.8)(0.366,5.9)(0.47,6.0)(0.577,6.1)(0.7,5.9)(0.85,5.1)(1,4.4)};
\addplot[bd] coordinates {(0,4.4)(0.12,4.8)(0.25,5.3)(0.366,5.6)(0.47,5.8)(0.577,6.0)(0.7,5.6)(0.85,5.0)(1,4.4)};
\addplot[bd] coordinates {(0,0)(0.06,1.6)(0.14,3.2)(0.25,4.5)(0.366,5.0)(0.47,5.1)(0.577,5.2)(0.7,4.6)(0.82,3.2)(0.92,1.5)(1,0)};
\addplot[bd] coordinates {(0,0)(0.06,1.4)(0.14,2.9)(0.25,4.2)(0.366,4.8)(0.47,5.0)(0.577,5.0)(0.7,4.3)(0.82,2.9)(0.92,1.3)(1,0)};
\addplot[bd] coordinates {(0,0)(0.06,1.2)(0.14,2.6)(0.25,3.9)(0.366,4.6)(0.47,4.8)(0.577,4.9)(0.7,4.1)(0.82,2.6)(0.92,1.1)(1,0)};
\addplot[zl] coordinates {(0,0)(1,0)};
\end{axis}
\begin{axis}[dos, at={(797pt,-413pt)}, width=46pt, height=240pt, xmax=1.05, ymin=-2.86, ymax=22.07, ytick={0,5,...,20}]
\addplot[ds] coordinates {(0,0)(0.01,1)(0.02,2)(0.04,3)(0.1,3.8)(0.3,4.3)(0.45,4.6)(0.64,4.85)(0.3,5.1)(0.35,5.3)(0.45,5.6)(0.3,5.9)(0.4,6.1)(0.3,6.4)(1.05,6.7)(0.2,6.9)(0.1,7.2)(0.15,7.5)(0.4,7.8)(0.6,8.2)(0.8,8.5)(0.3,8.8)(0.25,9.0)(0.5,9.3)(0.2,9.6)(0.05,9.8)(0.01,10.0)(0.01,11.9)(0.58,12.0)(0.05,12.2)(0.05,13)(0.08,14.5)(0.1,15.0)(0.3,15.3)(0.1,15.5)(0.08,16.0)(0.1,16.5)(0.2,17.0)(0.38,17.3)(0.15,17.5)(0.05,18.5)(0.03,19.0)(0.01,19.3)};
\addplot[zl] coordinates {(-1,0)(3,0)};
\end{axis}

% ================= (b) H-2 =================
\begin{axis}[band, at={(892pt,-415pt)}, width=165pt, height=237pt, ymin=-2.98, ymax=20.17, ytick={0,5,...,20}]
\addplot[bd] coordinates {(0,14.3)(0.1,15.3)(0.2,16.5)(0.3,17.5)(0.366,17.8)(0.47,17.7)(0.577,17.6)(0.7,17.0)(0.8,15.9)(0.9,14.8)(1,14.3)};
\addplot[bd] coordinates {(0,16.6)(0.1,16.4)(0.2,15.8)(0.3,15.2)(0.366,15.1)(0.47,15.0)(0.577,14.9)(0.7,15.2)(0.8,15.8)(0.9,16.4)(1,16.6)};
\addplot[bd] coordinates {(0,14.0)(0.12,14.1)(0.25,14.4)(0.366,14.6)(0.47,15.1)(0.577,15.5)(0.7,15.1)(0.85,14.3)(1,14.0)};
\addplot[bd] coordinates {(0,13.7)(0.1,13.2)(0.2,12.0)(0.3,10.9)(0.366,10.7)(0.47,10.7)(0.577,10.6)(0.7,11.1)(0.8,12.3)(0.9,13.3)(1,13.7)};
\addplot[bd] coordinates {(0,13.5)(0.1,13.0)(0.2,11.8)(0.3,10.7)(0.366,10.5)(0.47,10.5)(0.577,10.4)(0.7,10.9)(0.8,12.1)(0.9,13.1)(1,13.5)};
\addplot[bd] coordinates {(0,8.2)(0.1,8.0)(0.2,7.5)(0.28,7.7)(0.366,8.2)(0.47,7.8)(0.577,7.4)(0.68,7.5)(0.8,7.3)(0.9,7.7)(1,8.2)};
\addplot[bd] coordinates {(0,5.1)(0.12,5.7)(0.25,6.6)(0.366,7.0)(0.47,6.8)(0.577,6.6)(0.7,6.0)(0.85,5.5)(1,5.1)};
\addplot[bd] coordinates {(0,5.0)(0.12,5.4)(0.25,6.0)(0.366,6.4)(0.47,6.5)(0.577,6.6)(0.7,6.3)(0.85,5.6)(1,5.0)};
\addplot[bd] coordinates {(0,5.0)(0.12,5.2)(0.25,5.4)(0.366,5.5)(0.47,5.5)(0.577,5.4)(0.7,5.5)(0.85,5.3)(1,5.0)};
\addplot[bd] coordinates {(0,4.9)(0.12,5.0)(0.25,5.1)(0.366,5.2)(0.47,5.3)(0.577,5.3)(0.7,5.2)(0.85,5.1)(1,4.9)};
\addplot[bd] coordinates {(0,3.8)(0.12,4.3)(0.25,4.9)(0.366,5.4)(0.47,6.0)(0.577,6.4)(0.7,5.8)(0.85,4.5)(1,3.8)};
\addplot[bd] coordinates {(0,3.7)(0.12,4.1)(0.25,4.6)(0.366,5.0)(0.47,5.7)(0.577,6.2)(0.7,5.6)(0.85,4.3)(1,3.7)};
\addplot[bd] coordinates {(0,-0.1)(0.05,1.6)(0.1,3.0)(0.16,3.9)(0.22,3.6)(0.3,3.0)(0.366,2.8)(0.47,2.2)(0.577,1.6)(0.66,2.4)(0.74,3.5)(0.8,3.8)(0.87,3.0)(0.95,1.5)(1,-0.1)};
\addplot[bd] coordinates {(0,0)(0.06,1.2)(0.14,2.4)(0.25,3.3)(0.366,3.6)(0.47,3.9)(0.577,4.0)(0.7,3.5)(0.82,2.5)(0.92,1.2)(1,0)};
\addplot[bd] coordinates {(0,0)(0.06,0.7)(0.14,1.3)(0.25,1.6)(0.366,1.7)(0.47,1.8)(0.577,1.8)(0.7,1.8)(0.82,1.6)(0.92,1.0)(1,0)};
\addplot[zl] coordinates {(0,0)(1,0)};
\end{axis}
\begin{axis}[dos, at={(1061pt,-415pt)}, width=46pt, height=237pt, xmax=1.06, ymin=-2.98, ymax=20.17, ytick={0,5,...,20}]
\addplot[ds] coordinates {(0.01,-2.5)(0,0)(0.01,0.5)(0.05,1.3)(0.15,1.6)(0.42,1.85)(0.1,2.0)(0.05,2.5)(0.1,3.0)(0.25,3.3)(0.2,3.5)(0.3,3.7)(0.1,4.0)(0.08,4.3)(0.15,4.7)(0.3,5.0)(1.0,5.2)(0.3,5.4)(0.25,5.7)(0.3,6.0)(0.4,6.3)(0.3,6.5)(0.15,6.8)(0.2,7.2)(0.15,7.5)(0.1,8.0)(0.05,8.3)(0.01,8.5)(0.01,10.3)(0.1,10.5)(0.15,10.8)(0.05,11.0)(0.02,12)(0.05,13.5)(0.1,14.0)(0.2,14.3)(0.1,14.6)(0.25,14.8)(0.2,15.1)(0.05,15.3)(0.05,16.5)(0.1,17.0)(0.12,17.5)(0.05,17.8)(0.01,18)(0.01,20)};
\addplot[zl] coordinates {(-1,0)(3,0)};
\end{axis}
\end{tikzpicture}
\end{document}
